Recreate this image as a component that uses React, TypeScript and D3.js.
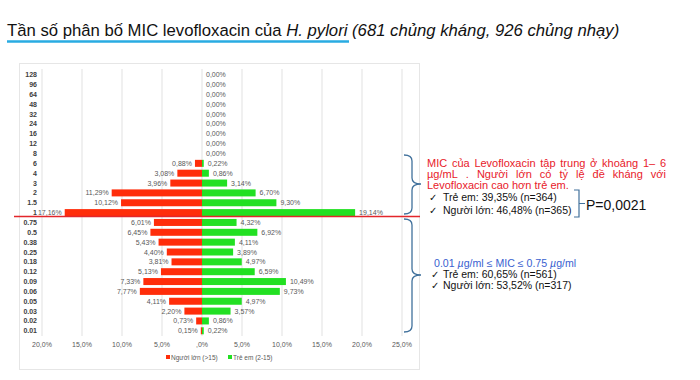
import React from "react";
import * as d3 from "d3";

const categories = ["128","96","64","48","32","24","16","12","8","6","4","3","2","1.5","1","0.75","0.5","0.38","0.25","0.18","0.12","0.09","0.06","0.05","0.03","0.02","0.01"];
const adults = [0,0,0,0,0,0,0,0,0,0.88,3.08,3.96,11.29,10.12,17.16,6.01,6.45,5.43,4.40,3.81,5.13,7.33,7.77,4.11,2.20,0.73,0.15];
const children = [0,0,0,0,0,0,0,0,0,0.22,0.86,3.14,6.70,9.30,19.14,4.32,6.92,4.11,3.89,4.97,6.59,10.49,9.73,4.97,3.57,0.86,0.22];
const xTicks = [-20,-15,-10,-5,0,5,10,15,20,25];
const seriesNames = ["Người lớn (>15)", "Trẻ em (2-15)"];

const FONT = "'Liberation Sans', Arial, sans-serif";
const RED = "#ff2d0a";
const GREEN = "#22e022";
const BRACE = "#41719c";

let ctx: CanvasRenderingContext2D | null = null;
function measure(t: string, font: string) {
  if (!ctx) ctx = document.createElement("canvas").getContext("2d");
  ctx!.font = font;
  return ctx!.measureText(t).width;
}

function justified(line: string, x0: number, x1: number, y: number, size: number, fill: string, key: string) {
  const words = line.split(" ");
  const font = `${size}px 'Liberation Sans', Arial, sans-serif`;
  const widths = words.map((w) => measure(w, font));
  const total = d3.sum(widths);
  const gap = words.length > 1 ? (x1 - x0 - total) / (words.length - 1) : 0;
  let x = x0;
  return words.map((w, i) => {
    const el = (
      <text key={key + i} x={x} y={y} fontSize={size} fill={fill}>{w}</text>
    );
    x += widths[i] + gap;
    return el;
  });
}

function bracePath(x0: number, y0: number, y1: number, xm: number, xt: number, ym: number, r: number) {
  return `M${x0},${y0} Q${xm},${y0} ${xm},${y0 + r} L${xm},${ym - r} Q${xm},${ym} ${xt},${ym} Q${xm},${ym} ${xm},${ym + r} L${xm},${y1 - r} Q${xm},${y1} ${x0},${y1}`;
}

export default function App() {
  const x = d3.scaleLinear().domain([-20, 25]).range([42, 402]);
  const y = d3.scalePoint<string>().domain(categories).range([74.7, 330.8]);
  const step = y.step();
  const barH = 7;
  const fmt = (v: number) => v.toFixed(2).replace(".", ",") + "%";
  const tickFmt = (t: number) => (t === 0 ? ",0%" : Math.abs(t).toFixed(1).replace(".", ",") + "%");
  const sepY = (y("1") as number) + step * 0.4;

  return (
    <svg width={700} height={380} style={{ position: "absolute", left: 0, top: 0, background: "#fff" }} fontFamily={FONT}>
      <rect x={0} y={0} width={700} height={380} fill="#fff" />
      {/* Title */}
      <text x={7} y={36} fontSize={16.7} fill="#111">
        <tspan>Tần số phân bố MIC levofloxacin của </tspan>
        <tspan fontStyle="italic">H. pylori</tspan>
        <tspan fontStyle="italic"> (681 chủng kháng, 926 chủng nhạy)</tspan>
      </text>
      <line x1={7} x2={349} y1={41.5} y2={41.5} stroke="#29abe2" strokeWidth={2.5} />

      {/* chart frame */}
      <rect x={19.5} y={63.5} width={400} height={306} fill="none" stroke="#e6e6e6" strokeWidth={1} />

      {/* grid */}
      {xTicks.map((t) => (
        <line key={"g" + t} x1={x(t)} x2={x(t)} y1={69} y2={336} stroke="#d9d9d9" strokeWidth={0.8} />
      ))}

      {/* bars */}
      {categories.map((c, i) => {
        const cy = y(c) as number;
        return (
          <g key={"b" + c}>
            {adults[i] > 0 && (
              <rect x={x(-adults[i])} y={cy - barH / 2} width={x(0) - x(-adults[i])} height={barH} fill={RED} />
            )}
            {children[i] > 0 && (
              <rect x={x(0)} y={cy - barH / 2} width={x(children[i]) - x(0)} height={barH} fill={GREEN} />
            )}
            {adults[i] > 0 && (
              <text x={x(-adults[i]) - 3} y={cy + 2.5} fontSize={7} fill="#595959" textAnchor="end">{fmt(adults[i])}</text>
            )}
            <text x={x(children[i]) + 4} y={cy + 2.5} fontSize={7} fill="#595959">{fmt(children[i])}</text>
            <text x={37} y={cy + 2.5} fontSize={7} fontWeight="bold" fill="#404040" textAnchor="end">{c}</text>
          </g>
        );
      })}

      {/* x axis labels */}
      {xTicks.map((t) => (
        <text key={"t" + t} x={x(t)} y={347} fontSize={7} fill="#595959" textAnchor="middle">{tickFmt(t)}</text>
      ))}

      {/* legend */}
      <rect x={166} y={355} width={4} height={4} fill={RED} />
      <text x={171} y={359.5} fontSize={6.5} fill="#595959">{seriesNames[0]}</text>
      <rect x={228} y={355} width={4} height={4} fill={GREEN} />
      <text x={233} y={359.5} fontSize={6.5} fill="#595959">{seriesNames[1]}</text>

      {/* separator */}
      <line x1={14} x2={420} y1={sepY} y2={sepY} stroke="#e3262b" strokeWidth={1.5} />

      {/* braces */}
      <path d={bracePath(404, 155, 214, 412, 421, 184, 6)} fill="none" stroke={BRACE} strokeWidth={1.3} />
      <path d={bracePath(404, 219, 332, 412, 421, 275, 6)} fill="none" stroke={BRACE} strokeWidth={1.3} />

      {/* red annotation */}
      {justified("MIC của Levofloxacin tập trung ở khoảng 1– 6", 427, 666, 166.5, 11, "#e8202a", "l1")}
      {justified("µg/mL . Người lớn có tỷ lệ đề kháng với", 427, 666, 177.5, 11, "#e8202a", "l2")}
      <text x={427} y={188.5} fontSize={11} fill="#e8202a">Levofloxacin cao hơn trẻ em.</text>

      <text x={429} y={201} fontSize={10} fill="#111">✓</text>
      <text x={443} y={201} fontSize={10.5} fill="#111">Trẻ em: 39,35% (n=364)</text>
      <text x={429} y={214} fontSize={10} fill="#111">✓</text>
      <text x={443} y={214} fontSize={10.5} fill="#111">Người lớn: 46,48% (n=365)</text>

      <path d="M574,190 L579,190 L579,217 L574,217 M579,203.5 L585,203.5" fill="none" stroke={BRACE} strokeWidth={1.2} />
      <text x={586} y={209.5} fontSize={14} fill="#111">P=0,0021</text>

      {/* blue annotation */}
      <text x={434} y={266.5} fontSize={10.6} fill="#3a5fd0">
        0.01 <tspan fontStyle="italic">µ</tspan>g/ml  ≤ MIC  ≤ 0.75 <tspan fontStyle="italic">µ</tspan>g/ml
      </text>
      <text x={431} y={278} fontSize={10} fill="#111">✓</text>
      <text x={443} y={278} fontSize={10.5} fill="#111">Trẻ em: 60,65% (n=561)</text>
      <text x={431} y={289} fontSize={10} fill="#111">✓</text>
      <text x={443} y={289} fontSize={10.5} fill="#111">Người lớn:  53,52% (n=317)</text>
    </svg>
  );
}
